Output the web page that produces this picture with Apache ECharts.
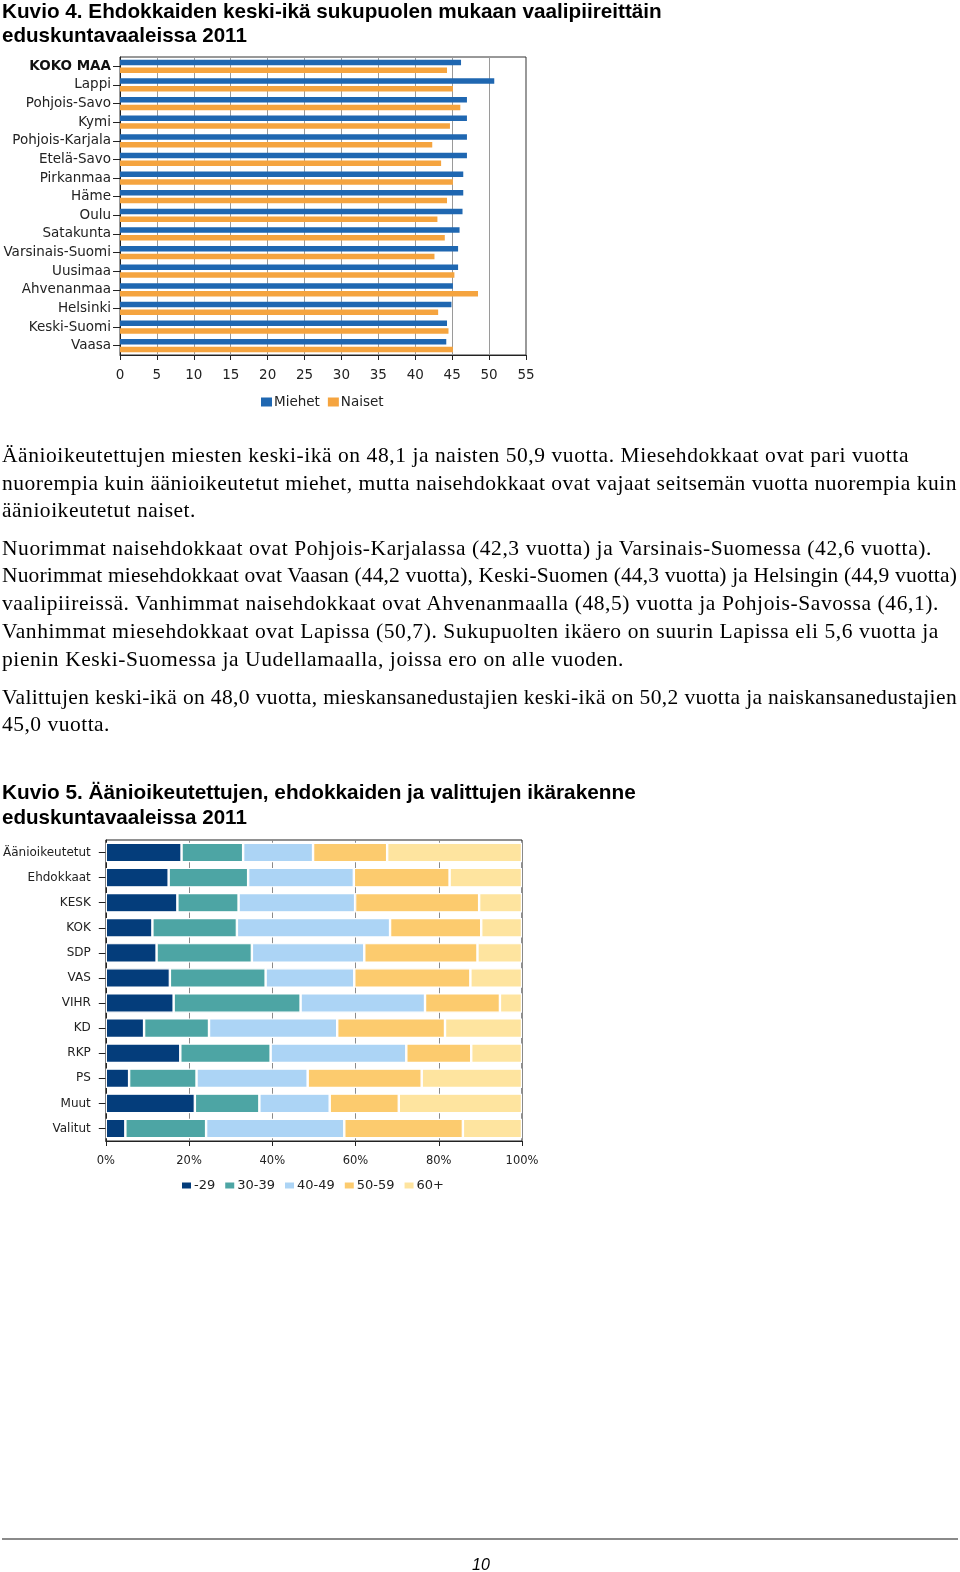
<!DOCTYPE html>
<html>
<head>
<meta charset="utf-8">
<script src="https://cdn.jsdelivr.net/npm/echarts@6/dist/echarts.min.js"></script>
<style>
html,body{margin:0;padding:0;background:#fff;}
#page{position:relative;width:960px;height:1572px;overflow:hidden;background:#fff;}
#chart{position:absolute;left:0;top:0;width:960px;height:1572px;}
.ln{position:absolute;left:2px;white-space:nowrap;font-family:'Liberation Serif','Times New Roman',serif;font-size:21.5px;line-height:24px;color:#000;}
.tt{position:absolute;left:2px;white-space:nowrap;font-family:'Liberation Sans',Arial,sans-serif;font-weight:bold;font-size:21px;line-height:24px;color:#000;transform-origin:0 50%;}
#rule{position:absolute;left:2px;top:1538px;width:956px;height:2px;background:#8a8a8a;}
#pnum{position:absolute;left:470px;top:1555px;width:22px;text-align:center;font-family:'Liberation Sans',Arial,sans-serif;font-style:italic;font-size:16px;line-height:20px;color:#000;}
</style>
</head>
<body>
<div id="page">
<div id="chart"></div>
<div id="rule"></div>
<div id="pnum">10</div>
</div>
<script>
// ---- Chart 1 data ----
var districts = ['KOKO MAA','Lappi','Pohjois-Savo','Kymi','Pohjois-Karjala','Etelä-Savo','Pirkanmaa','Häme','Oulu','Satakunta','Varsinais-Suomi','Uusimaa','Ahvenanmaa','Helsinki','Keski-Suomi','Vaasa'];
var miehet = [46.2,50.7,47.0,47.0,47.0,47.0,46.5,46.5,46.4,46.0,45.8,45.8,45.1,44.9,44.3,44.2];
var naiset = [44.3,45.1,46.1,44.7,42.3,43.5,45.1,44.3,43.0,44.0,42.6,45.3,48.5,43.1,44.5,45.1];
var ageTicks = [0,5,10,15,20,25,30,35,40,45,50,55];

// ---- Chart 2 data ----
var groups = ['Äänioikeutetut','Ehdokkaat','KESK','KOK','SDP','VAS','VIHR','KD','RKP','PS','Muut','Valitut'];
var ageGroups = ['-29','30-39','40-49','50-59','60+'];
var g29   = [18.2,15.1,17.2,11.2,12.2,15.4,16.3, 9.2,17.9, 5.6,21.4, 4.7];
var g3039 = [14.8,19.1,14.7,20.3,22.9,23.0,30.5,15.6,21.7,16.2,15.5,19.4];
var g4049 = [16.8,25.4,28.0,36.8,27.0,21.3,29.9,30.8,32.6,26.7,16.9,33.2];
var g5059 = [17.8,23.0,29.8,21.9,27.2,27.9,18.0,25.9,15.6,27.4,16.6,28.5];
var g60   = [32.4,17.4,10.3, 9.8,10.7,12.4, 5.3,18.5,12.2,24.1,29.6,14.2];
var pctTicks = ['0%','20%','40%','60%','80%','100%'];

// ---- Text ----
var titles = [
  {t:'Kuvio 4. Ehdokkaiden keski-ikä sukupuolen mukaan vaalipiireittäin', y:11, w:660},
  {t:'eduskuntavaaleissa 2011', y:35, w:245},
  {t:'Kuvio 5. Äänioikeutettujen, ehdokkaiden ja valittujen ikärakenne', y:792, w:634},
  {t:'eduskuntavaaleissa 2011', y:817, w:245}
];
var lines = [
  {t:'Äänioikeutettujen miesten keski-ikä on 48,1 ja naisten 50,9 vuotta. Miesehdokkaat ovat pari vuotta', y:456, w:907},
  {t:'nuorempia kuin äänioikeutetut miehet, mutta naisehdokkaat ovat vajaat seitsemän vuotta nuorempia kuin', y:484, w:955},
  {t:'äänioikeutetut naiset.', y:511, w:194},
  {t:'Nuorimmat naisehdokkaat ovat Pohjois-Karjalassa (42,3 vuotta) ja Varsinais-Suomessa (42,6 vuotta).', y:549, w:930},
  {t:'Nuorimmat miesehdokkaat ovat Vaasan (44,2 vuotta), Keski-Suomen (44,3 vuotta) ja Helsingin (44,9 vuotta)', y:576, w:955},
  {t:'vaalipiireissä. Vanhimmat naisehdokkaat ovat Ahvenanmaalla (48,5) vuotta ja Pohjois-Savossa (46,1).', y:604, w:937},
  {t:'Vanhimmat miesehdokkaat ovat Lapissa (50,7). Sukupuolten ikäero on suurin Lapissa eli 5,6 vuotta ja', y:632, w:937},
  {t:'pienin Keski-Suomessa ja Uudellamaalla, joissa ero on alle vuoden.', y:660, w:622},
  {t:'Valittujen keski-ikä on 48,0 vuotta, mieskansanedustajien keski-ikä on 50,2 vuotta ja naiskansanedustajien', y:698, w:955},
  {t:'45,0 vuotta.', y:725, w:108}
];
var page = document.getElementById('page');
titles.forEach(function(o){
  var d = document.createElement('div'); d.className='tt'; d.textContent=o.t;
  d.style.top=(o.y-12)+'px'; page.appendChild(d);
  var n = d.scrollWidth; d.style.transform='scaleX('+(o.w/n)+')';
});
lines.forEach(function(o){
  var d = document.createElement('div'); d.className='ln'; d.textContent=o.t;
  d.style.top=(o.y-13)+'px'; page.appendChild(d);
  var n = d.getBoundingClientRect().width;
  d.style.letterSpacing = ((o.w - n)/(o.t.length))+'px';
});

// ---- Charts ----
var chart = echarts.init(document.getElementById('chart'), null, {renderer:'canvas'});
var labelFont = 'DejaVu Sans';
function stackSeries(name, data, color){
  return {name:name, type:'bar', stack:'age', xAxisIndex:1, yAxisIndex:1, data:data, barWidth:19.5,
    itemStyle:{color:color, borderColor:'#fff', borderWidth:1.2}};
}
chart.setOption({
  animation:false,
  grid:[
    {left:120, top:57, width:406, height:298, show:true, borderColor:'#333', borderWidth:1, backgroundColor:'transparent'},
    {left:104, top:840, width:418, height:301, show:true, borderColor:'#222', borderWidth:1, backgroundColor:'transparent'}
  ],
  legend:[
    {data:['Miehet','Naiset'], left:256, top:390, itemWidth:11, itemHeight:9, itemGap:8, icon:'rect',
      textStyle:{fontFamily:labelFont, fontSize:13.5, color:'#222', padding:[0,0,0,-3]}},
    {data:ageGroups, left:175, top:1174, itemWidth:11, itemHeight:8, itemGap:8, icon:'rect',
      textStyle:{fontFamily:labelFont, fontSize:13, color:'#222', padding:[0,0,0,-3]}}
  ],
  xAxis:[
    {type:'value', gridIndex:0, min:0, max:55, interval:5,
      axisLine:{show:true, lineStyle:{color:'#222'}}, axisTick:{show:true, length:5, lineStyle:{color:'#222'}},
      axisLabel:{fontFamily:labelFont, fontSize:13.5, color:'#222', margin:13,
        formatter:function(v){return ageTicks.indexOf(v)>=0 ? String(v) : '';}},
      splitLine:{show:true, lineStyle:{color:'#9a9a9a', width:1}}},
    {type:'value', gridIndex:1, min:0, max:100, interval:20,
      axisLine:{show:true, lineStyle:{color:'#222'}}, axisTick:{show:true, length:5, lineStyle:{color:'#222'}},
      axisLabel:{fontFamily:labelFont, fontSize:11.5, color:'#222', margin:14,
        formatter:function(v){return pctTicks[v/20];}},
      splitLine:{show:true, lineStyle:{color:'#8a8a8a', width:1}}}
  ],
  yAxis:[
    {type:'category', gridIndex:0, data:districts, inverse:true,
      axisLine:{show:true, lineStyle:{color:'#222'}},
      axisTick:{show:true, alignWithLabel:true, length:7, lineStyle:{color:'#222'}},
      axisLabel:{fontFamily:labelFont, fontSize:13.5, color:'#222', margin:9, interval:0,
        formatter:function(v){return v==='KOKO MAA' ? '{b|'+v+'}' : v;},
        rich:{b:{fontFamily:labelFont, fontSize:13.5, fontWeight:'bold', color:'#111'}}},
      splitLine:{show:false}},
    {type:'category', gridIndex:1, data:groups, inverse:true,
      axisLine:{show:true, lineStyle:{color:'#222'}},
      axisTick:{show:true, alignWithLabel:true, length:7, lineStyle:{color:'#222'}},
      axisLabel:{fontFamily:labelFont, fontSize:12, color:'#222', margin:15, interval:0},
      splitLine:{show:false}}
  ],
  series:[
    {name:'Miehet', type:'bar', xAxisIndex:0, yAxisIndex:0, data:miehet, barWidth:5.5, barGap:'40%',
      itemStyle:{color:'#1f67b1'}},
    {name:'Naiset', type:'bar', xAxisIndex:0, yAxisIndex:0, data:naiset, barWidth:5.5, barGap:'40%',
      itemStyle:{color:'#f5a43f'}},
    stackSeries('-29', g29, '#043d7b'),
    stackSeries('30-39', g3039, '#4da5a4'),
    stackSeries('40-49', g4049, '#acd4f5'),
    stackSeries('50-59', g5059, '#fccb6e'),
    stackSeries('60+', g60, '#fee49f')
  ]
});
</script>
</body>
</html>
